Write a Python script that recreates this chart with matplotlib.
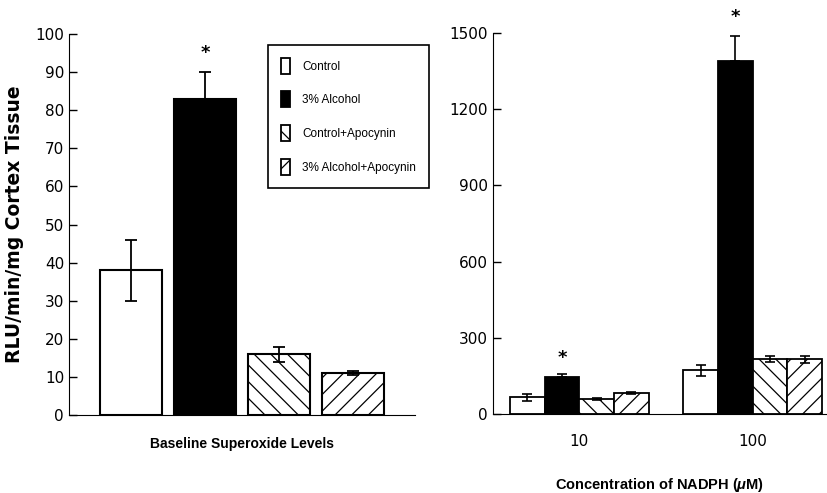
import matplotlib
matplotlib.use('Agg')
import matplotlib.pyplot as plt
import matplotlib.patches as mpatches
import numpy as np

groups = ['Control', '3% Alcohol', 'Control+Apocynin', '3% Alcohol+Apocynin']
colors = ['white', 'black', 'white', 'white']
hatches = ['', '', '\\\\', '//']

# baseline superoxide
base_vals = [38, 83, 16, 11]
base_err_lo = [8, 0, 2, 0.5]
base_err_hi = [8, 7, 2, 0.5]

# NADPH stimulated
nadph_conc = ['10', '100']
nadph_vals = [[66, 173], [148, 1391], [60, 218], [83, 215]]
nadph_err_lo = [[13, 22], [0, 0], [3, 12], [4, 12]]
nadph_err_hi = [[13, 22], [9, 99], [3, 12], [4, 12]]

narrow = 'Liberation Sans'
plt.rcParams['mathtext.fontset'] = 'custom'
plt.rcParams['mathtext.rm'] = 'Liberation Sans:bold'
plt.rcParams['mathtext.it'] = 'Liberation Sans:italic:bold'
plt.rcParams['mathtext.bf'] = 'Liberation Sans:bold'
plt.rcParams['hatch.linewidth'] = 0.9
tickfont = {'family': 'DejaVu Sans', 'size': 11}

fig = plt.figure(figsize=(8.28, 4.93), dpi=100)

# left panel
ax1 = fig.add_axes([0.0833, 0.158, 0.418, 0.773])
x = np.arange(len(groups))
for i in range(len(groups)):
    ax1.bar(x[i], base_vals[i], width=0.84, color=colors[i], edgecolor='black',
            hatch=hatches[i], linewidth=1.5, zorder=2)
    ax1.errorbar(x[i], base_vals[i], yerr=[[base_err_lo[i]], [base_err_hi[i]]],
                 fmt='none', ecolor='black', elinewidth=1.3, capsize=4, capthick=1.3, zorder=3)
ax1.text(1, 95, '*', ha='center', va='center', fontsize=13, fontweight='bold')
ax1.set_xlim(-0.838, 3.84)
ax1.set_ylim(0, 100)
ax1.set_yticks(np.arange(0, 101, 10))
ax1.set_xticks([])
ax1.spines['top'].set_visible(False)
ax1.spines['right'].set_visible(False)
ax1.tick_params(axis='y', direction='in', length=6, width=1)
for lab in ax1.get_yticklabels():
    lab.set_fontproperties(tickfont)
ax1.set_ylabel('RLU/min/mg Cortex Tissue', fontsize=13.5, fontweight='bold', labelpad=8)
ax1.set_xlabel('Baseline Superoxide Levels', fontfamily=narrow, fontsize=10,
               fontweight='bold', labelpad=16)

# right panel
ax2 = fig.add_axes([0.595, 0.160, 0.404, 0.773])
xg = np.arange(len(nadph_conc))
w = 0.2
for i in range(len(groups)):
    pos = xg + (i - 1.5) * w
    ax2.bar(pos, nadph_vals[i], width=w, color=colors[i], edgecolor='black',
            hatch=hatches[i], linewidth=1.3, zorder=2)
    ax2.errorbar(pos, nadph_vals[i], yerr=[nadph_err_lo[i], nadph_err_hi[i]],
                 fmt='none', ecolor='black', elinewidth=1.2, capsize=3.5, capthick=1.2, zorder=3)
ax2.text(xg[0] - 0.5 * w, 222, '*', ha='center', va='center', fontsize=13, fontweight='bold')
ax2.text(xg[1] - 0.5 * w, 1565, '*', ha='center', va='center', fontsize=13,
         fontweight='bold', clip_on=False)
ax2.set_xlim(-0.5, 1.43)
ax2.set_ylim(0, 1500)
ax2.set_yticks(np.arange(0, 1501, 300))
ax2.set_xticks(xg)
ax2.set_xticklabels(nadph_conc)
ax2.spines['top'].set_visible(False)
ax2.spines['right'].set_visible(False)
ax2.tick_params(axis='y', direction='in', length=6, width=1)
ax2.tick_params(axis='x', length=0, pad=14)
for lab in ax2.get_yticklabels() + ax2.get_xticklabels():
    lab.set_fontproperties(tickfont)
ax2.set_xlabel('Concentration of NADPH ($\\mu$M)', fontfamily=narrow, fontsize=10.5,
               fontweight='bold', labelpad=20)

# legend
handles = [mpatches.Patch(facecolor=colors[i], edgecolor='black', hatch=hatches[i], linewidth=1.3)
           for i in range(len(groups))]
leg = fig.legend(handles, groups, loc='upper left', bbox_to_anchor=(0.324, 0.909),
                 bbox_transform=fig.transFigure, prop={'family': narrow, 'size': 8.5},
                 handlelength=0.75, handleheight=1.7, labelspacing=1.5, borderpad=1.1,
                 handletextpad=1.0, borderaxespad=0, fancybox=False, edgecolor='black',
                 framealpha=1)
leg.get_frame().set_linewidth(1.2)

plt.savefig('out.png', dpi=100)
